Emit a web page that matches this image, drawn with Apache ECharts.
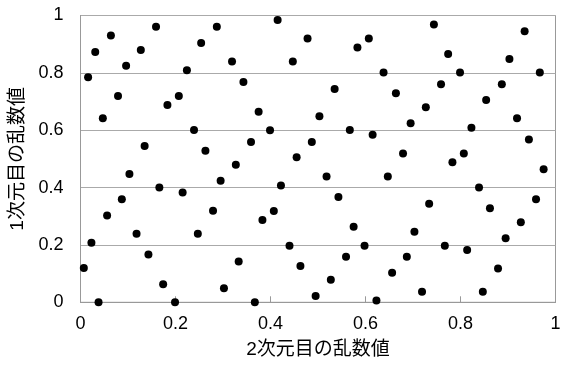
<!DOCTYPE html>
<html>
<head>
<meta charset="utf-8">
<script src="https://cdn.jsdelivr.net/npm/echarts@6/dist/echarts.min.js"></script>
<style>
  html, body { margin: 0; padding: 0; background: #fff; }
  #chart { width: 567px; height: 367px; }
</style>
</head>
<body>
<div id="chart"></div>
<script>
// x: 2次元目の乱数値, y: 1次元目の乱数値
const xs = [
  0.016, 0.031, 0.064, 0.047, 0.079, 0.096, 0.127, 0.159, 0.135, 0.183,
  0.207, 0.224, 0.239, 0.254, 0.287, 0.319, 0.263, 0.327, 0.103, 0.295,
  0.166, 0.215, 0.087, 0.279, 0.056, 0.118, 0.247, 0.023, 0.143, 0.333,
  0.007, 0.174, 0.302, 0.038, 0.199, 0.415, 0.478, 0.447, 0.583, 0.607,
  0.638, 0.664, 0.343, 0.535, 0.375, 0.503, 0.399, 0.567, 0.615, 0.359,
  0.487, 0.455, 0.518, 0.647, 0.422, 0.543, 0.407, 0.383, 0.575, 0.440,
  0.598, 0.559, 0.463, 0.656, 0.527, 0.495, 0.623, 0.367, 0.744, 0.935,
  0.774, 0.903, 0.799, 0.967, 0.759, 0.887, 0.854, 0.727, 0.695, 0.919,
  0.823, 0.944, 0.679, 0.807, 0.783, 0.975, 0.839, 0.734, 0.862, 0.959,
  0.927, 0.703, 0.895, 0.767, 0.814, 0.687, 0.879, 0.719, 0.847
];
const ys = [
  0.785, 0.873, 0.930, 0.642, 0.719, 0.825, 0.880, 0.961, 0.545, 0.688,
  0.719, 0.809, 0.601, 0.904, 0.961, 0.840, 0.528, 0.480, 0.447, 0.424,
  0.400, 0.383, 0.359, 0.319, 0.303, 0.239, 0.239, 0.208, 0.167, 0.142,
  0.120, 0.063, 0.049, 0.000, 0.000, 0.984, 0.920, 0.840, 0.888, 0.920,
  0.801, 0.729, 0.768, 0.744, 0.664, 0.649, 0.600, 0.601, 0.584, 0.559,
  0.559, 0.506, 0.439, 0.439, 0.407, 0.367, 0.318, 0.287, 0.263, 0.197,
  0.197, 0.159, 0.127, 0.103, 0.079, 0.022, 0.006, 0.000, 0.969, 0.945,
  0.866, 0.848, 0.801, 0.801, 0.760, 0.760, 0.705, 0.680, 0.624, 0.642,
  0.609, 0.568, 0.519, 0.519, 0.488, 0.464, 0.400, 0.344, 0.328, 0.359,
  0.279, 0.246, 0.223, 0.197, 0.182, 0.159, 0.118, 0.037, 0.037
];
const xName = "2次元目の乱数値";
const yName = "1次元目の乱数値";

const FONT = "'Liberation Sans', 'Noto Sans CJK JP', sans-serif";

const chart = echarts.init(document.getElementById("chart"));
chart.setOption({
  animation: false,
  grid: {
    left: 80.5, right: 11.5, top: 15.5, bottom: 64.7,
    outerBoundsMode: "none",
    show: true, borderColor: "#999", borderWidth: 1,
  },
  xAxis: {
    type: "value",
    min: 0,
    max: 1,
    interval: 0.2,
    name: xName,
    nameLocation: "middle",
    nameGap: 38,
    nameTextStyle: { fontFamily: FONT, fontSize: 19, color: "#000" },
    axisLine: { show: true, lineStyle: { color: "#999" } },
    axisTick: { show: true, inside: true, length: 6, lineStyle: { color: "#999" } },
    splitLine: { show: false },
    axisLabel: {
      fontFamily: FONT, fontSize: 18, color: "#000", margin: 13,
      formatter: (v) => String(Math.round(v * 10) / 10),
    },
  },
  yAxis: {
    type: "value",
    min: 0,
    max: 1,
    interval: 0.2,
    name: yName,
    nameLocation: "middle",
    nameGap: 51,
    nameTextStyle: { fontFamily: FONT, fontSize: 19, color: "#000" },
    axisLine: { show: true, lineStyle: { color: "#999" } },
    axisTick: { show: false },
    splitLine: { show: true, lineStyle: { color: "#aaa", width: 1 } },
    axisLabel: {
      fontFamily: FONT, fontSize: 18, color: "#000", margin: 17,
      formatter: (v) => String(Math.round(v * 10) / 10),
    },
  },
  series: [
    {
      type: "scatter",
      symbol: "circle",
      symbolSize: 8,
      itemStyle: { color: "#000", opacity: 1 },
      data: xs.map((x, i) => [x, ys[i]]),
    },
  ],
});
</script>
</body>
</html>
